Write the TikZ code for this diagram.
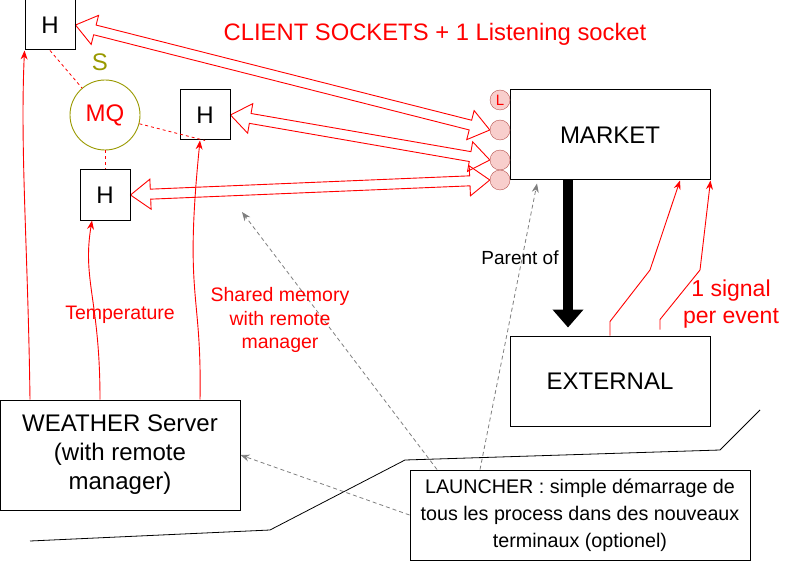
\documentclass[tikz,border=0pt]{standalone}
\usepackage{fontspec}
\setmainfont{Liberation Sans}
\usetikzlibrary{arrows.meta, backgrounds, calc, positioning}

\definecolor{olivemq}{HTML}{999900}
\definecolor{sockfill}{HTML}{F8CECC}
\definecolor{sockline}{HTML}{B85450}
\definecolor{launchgray}{HTML}{7F7F7F}

\begin{document}
\begin{tikzpicture}[x=1pt, y=-1pt,
    hbox/.style={draw, line width=1pt, minimum width=50pt, minimum height=50pt, inner sep=0pt, font=\fontsize{24}{29}\selectfont},
    proc/.style={draw, line width=1pt, inner sep=0pt, align=center, font=\fontsize{24}{29}\selectfont},
    sock/.style={circle, draw=sockline, fill=sockfill, minimum size=20pt, inner sep=0pt},
    redtxt/.style={red, align=center},
    feed/.style={red, line width=0.9pt, -{Stealth[length=9pt,width=7pt]}},
    shm/.style={red, line width=0.8pt, dash pattern=on 3pt off 3pt},
    launch/.style={launchgray, line width=0.8pt, dash pattern=on 4pt off 3pt, -{Stealth[length=9pt,width=7pt]}},
    flex/.style={red, line width=0.9pt, line join=miter}]

    \useasboundingbox (0,0) rectangle (791,561);

    % Handlers and the message queue
    \node[hbox] (h1) at (50,25) {H};
    \node[hbox] (h2) at (205,115) {H};
    \node[hbox] (h3) at (105,195) {H};
    \node[circle, draw=olivemq, line width=0.9pt, minimum size=70pt, inner sep=0pt, text=red, font=\fontsize{24}{29}\selectfont] (mq) at (105,115) {MQ};
    \node[olivemq, anchor=base, font=\fontsize{24}{29}\selectfont] (slbl) at (100,70.7) {S};

    % Processes
    \node[proc, minimum width=200pt, minimum height=90pt] (market) at (610,135) {MARKET};
    \node[proc, minimum width=200pt, minimum height=90pt] (ext) at (610,381) {EXTERNAL};
    \node[proc, minimum width=240pt, minimum height=110pt] (weather) at (120,455) {WEATHER Server\\(with remote\\manager)};
    \node[proc, minimum width=340pt, minimum height=90pt, font=\fontsize{19.7}{27}\selectfont] (launcher) at (580,515) {LAUNCHER : simple démarrage de\\tous les process dans des nouveaux\\terminaux (optionel)};

    % Sockets of the market
    \node[sock, text=red, font=\fontsize{15}{16}\selectfont] (sockL) at (500,100) {L};
    \node[sock] (sock2) at (500,130) {};
    \node[sock] (sock3) at (500,160) {};
    \node[sock] (sock4) at (500,180) {};

    % Client sockets (hollow double arrows)
    \begin{scope}[on background layer]
    \foreach \src/\dst in {h1/sock2, h2/sock3, h3/sock4}{
        \coordinate (a) at (\src.east);
        \coordinate (b) at (\dst.west);
        \coordinate (a1) at ($(a)!20pt!(b)$);
        \coordinate (b1) at ($(b)!20pt!(a)$);
        \draw[flex] (a) -- ($(a1)!15pt!90:(b)$) -- ($(a1)!5pt!90:(b)$) -- ($(b1)!5pt!-90:(a)$) -- ($(b1)!15pt!-90:(a)$) -- (b)
            -- ($(b1)!15pt!90:(a)$) -- ($(b1)!5pt!90:(a)$) -- ($(a1)!5pt!-90:(b)$) -- ($(a1)!15pt!-90:(b)$) -- cycle;
    }
    \end{scope}

    % Shared memory links
    \draw[shm] (h1.south) -- (mq);
    \draw[shm] (mq) -- (h2.south);
    \draw[shm] (mq.south) -- (h3.north);

    % Weather server feeds
    \draw[feed] ([xshift=-90]weather.north) .. controls (28,250) and (20,150) .. (h1.south west);
    \draw[feed] ([xshift=-20]weather.north) .. controls (100,300) and (82,280) .. ([xshift=-13]h3.south);
    \draw[feed] ([xshift=80]weather.north) .. controls (202,290) and (184,300) .. ([xshift=-5]h2.south);

    % Parent of
    \draw[line width=10pt, -{Triangle[length=18pt,width=30pt]}] ([xshift=-42]market.south) -- ([xshift=-42,yshift=8]ext.north);
    \node[anchor=base, font=\fontsize{19}{23}\selectfont] (parentlbl) at (520,264) {Parent of};

    % Signals
    \draw[feed] (ext.north) -- ++(0,-14) -- (650,270) -- ([xshift=70]market.south);
    \draw[feed] ([xshift=50,yshift=6]ext.north) -- ++(0,-10) -- (700,270) -- (market.south east);

    % Launcher
    \coordinate (shmtip) at (242,212);
    \draw[launch] ([xshift=-143]launcher.north) -- (shmtip);
    \draw[launch] ([xshift=-100]launcher.north) -- ([xshift=-73,yshift=-3]market.south);
    \draw[launch] (launcher.west) -- (weather.east);

    % Labels
    \node[red, anchor=base, font=\fontsize{23.8}{29}\selectfont] (title) at (435,40.7) {CLIENT SOCKETS + 1 Listening socket};
    \node[redtxt, font=\fontsize{23}{27}\selectfont] (siglbl) at (731,304) {1 signal\\per event};
    \node[red, anchor=base, font=\fontsize{19.5}{23}\selectfont] (templbl) at (120,319) {Temperature};
    \node[redtxt, font=\fontsize{19.5}{23.5}\selectfont] (shmlbl) at (280,320) {Shared memory\\with remote\\manager};

    % Bottom line
    \draw[line width=0.8pt] (30,541) -- (270,530) -- (405,460) -- (720,450) -- (760,410);
\end{tikzpicture}
\end{document}
